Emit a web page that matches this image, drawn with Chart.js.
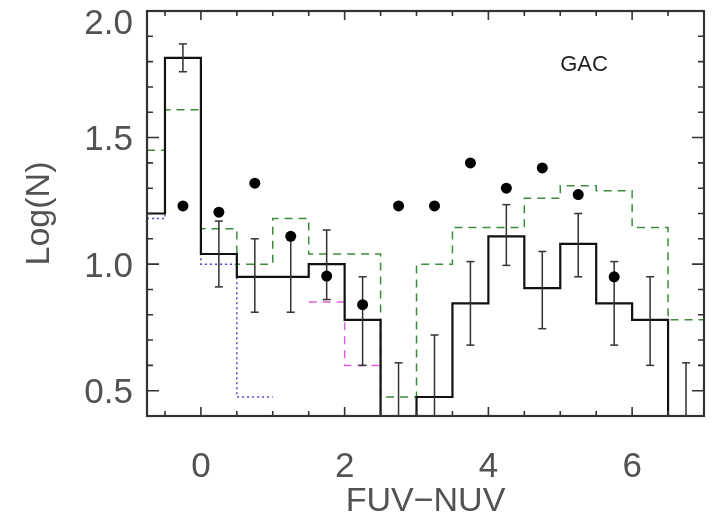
<!DOCTYPE html>
<html lang="en">
<head>
<meta charset="UTF-8">
<title>GAC FUV-NUV</title>
<script src="https://cdn.jsdelivr.net/npm/chart.js"></script>
<style>
  html, body { margin: 0; padding: 0; background: #fff; }
</style>
</head>
<body>
<canvas id="colourHist" width="726" height="516"></canvas>
<script>
// 0.5 mag bins in FUV-NUV, the first one is cut by the axis
const binEdges = [-0.75, -0.5, 0, 0.5, 1, 1.5, 2, 2.5, 3, 3.5, 4, 4.5, 5, 5.5, 6, 6.5, 7];
// log counts per bin
const gacCounts   = [1.20, 1.815, 1.04, 0.95, 0.95, 1.00, 0.78, 0.30, 0.475, 0.845, 1.11, 0.905, 1.08, 0.845, 0.78, 0.30];
const modelCounts = [1.45, 1.61, 1.14, 1.00, 1.18, 1.04, 1.04, 0.475, 1.00, 1.145, 1.145, 1.26, 1.31, 1.29, 1.145, 0.78];
const blueCounts  = [1.18, 1.815, 1.00, 0.475];          // bins from -0.75 to 1.0
const pinkCounts  = [0.85, 0.60];                        // bins from 1.5 to 2.5
const pinkStart = 5;                                     // index of first pink bin edge

// error bars at the centres of the full bins
const errCentres = [-0.25, 0.25, 0.75, 1.25, 1.75, 2.25, 2.75, 3.25, 3.75, 4.25, 4.75, 5.25, 5.75, 6.25, 6.75];
const errLow  = [1.76, 0.91, 0.81, 0.81, 0.86, 0.60, 0.10, 0.10, 0.68, 0.995, 0.745, 0.95, 0.68, 0.60, 0.10];
const errHigh = [1.87, 1.17, 1.10, 1.11, 1.135, 0.95, 0.61, 0.72, 1.01, 1.235, 1.05, 1.20, 1.01, 0.95, 0.61];

// comparison sample (filled circles)
const dotX = [-0.25, 0.25, 0.75, 1.25, 1.75, 2.25, 2.75, 3.25, 3.75, 4.25, 4.75, 5.25, 5.75];
const dotY = [1.23, 1.205, 1.32, 1.11, 0.953, 0.84, 1.23, 1.23, 1.40, 1.30, 1.38, 1.275, 0.95];

const xTickLabels = [0, 2, 4, 6];
const yTickLabels = [0.5, 1.0, 1.5, 2.0];
const panelName = 'GAC';

const FONT = '"Liberation Sans", Arial, Helvetica, sans-serif';
const TEXT = '#525252';

// turn bin values into the corner points of a step outline
function steps(values, firstEdge) {
  const pts = [];
  values.forEach((v, i) => {
    pts.push({ x: binEdges[firstEdge + i], y: v });
    pts.push({ x: binEdges[firstEdge + i + 1], y: v });
  });
  return pts;
}

// vertical segments separated by gaps, caps come from the point style
function errorSegments() {
  const pts = [];
  errCentres.forEach((c, i) => {
    pts.push({ x: c, y: errLow[i] }, { x: c, y: errHigh[i] }, { x: c, y: null });
  });
  return pts;
}

// IDL style frame: box with inward ticks on all sides, y labels, panel name
const frameTicks = {
  id: 'frameTicks',
  afterDraw(chart) {
    const { ctx, chartArea: a, scales: { x, y } } = chart;
    ctx.save();
    ctx.setLineDash([]);
    ctx.strokeStyle = '#333';
    ctx.lineWidth = 1.6;
    ctx.beginPath();
    // minor ticks every 0.5 in x, every 0.1 in y
    for (let i = Math.ceil(x.min * 2); i <= Math.floor(x.max * 2); i++) {
      const px = x.getPixelForValue(i / 2);
      if (px <= a.left + 1 || px >= a.right - 1) continue;
      const len = xTickLabels.includes(i / 2) ? 9 : 5;
      ctx.moveTo(px, a.bottom); ctx.lineTo(px, a.bottom - len);
      ctx.moveTo(px, a.top); ctx.lineTo(px, a.top + len);
    }
    for (let i = Math.ceil(y.min * 10 - 1e-6); i <= Math.floor(y.max * 10 + 1e-6); i++) {
      const py = y.getPixelForValue(i / 10);
      if (py <= a.top + 1 || py >= a.bottom - 1) continue;
      const len = i % 5 === 0 ? 12 : 6;
      ctx.moveTo(a.left, py); ctx.lineTo(a.left + len, py);
      ctx.moveTo(a.right, py); ctx.lineTo(a.right - len, py);
    }
    ctx.stroke();
    ctx.lineWidth = 2.2;
    ctx.strokeRect(a.left, a.top, a.right - a.left, a.bottom - a.top);

    ctx.fillStyle = TEXT;
    ctx.font = '35px ' + FONT;
    ctx.textAlign = 'right';
    ctx.textBaseline = 'middle';
    yTickLabels.forEach(v => {
      const py = Math.max(y.getPixelForValue(v), a.top + 10);
      ctx.fillText(v.toFixed(1), a.left - 14, py + 3);
    });

    ctx.fillStyle = '#222';
    ctx.font = '22px ' + FONT;
    ctx.textAlign = 'center';
    ctx.fillText(panelName, x.getPixelForValue(5.33), y.getPixelForValue(1.785));
    ctx.restore();
  }
};

new Chart(document.getElementById('colourHist'), {
  type: 'line',
  data: {
    datasets: [
      {
        label: 'comparison',
        data: dotX.map((v, i) => ({ x: v, y: dotY[i] })),
        showLine: false,
        pointRadius: 5.5,
        pointBackgroundColor: '#000',
        pointBorderWidth: 0,
        order: 0
      },
      {
        label: 'errors',
        data: errorSegments(),
        borderColor: '#333',
        borderWidth: 1.5,
        pointStyle: 'line',
        pointRadius: 4,
        pointBorderColor: '#333',
        pointBorderWidth: 1.5,
        spanGaps: false,
        order: 1
      },
      {
        label: 'GAC',
        data: steps(gacCounts, 0),
        borderColor: '#111',
        borderWidth: 2.2,
        pointRadius: 0,
        order: 2
      },
      {
        label: 'pink',
        data: steps(pinkCounts, pinkStart),
        borderColor: '#dd60dd',
        borderWidth: 1.5,
        borderDash: [8, 6],
        pointRadius: 0,
        order: 3
      },
      {
        label: 'blue',
        data: steps(blueCounts, 0),
        borderColor: '#4a4ad0',
        borderWidth: 1.5,
        borderDash: [2, 3],
        pointRadius: 0,
        order: 4
      },
      {
        label: 'model',
        data: steps(modelCounts, 0),
        borderColor: '#3c8c3c',
        borderWidth: 1.5,
        borderDash: [8, 6],
        pointRadius: 0,
        order: 5
      }
    ]
  },
  options: {
    responsive: false,
    animation: false,
    layout: { padding: { top: 11, right: 6, left: 0, bottom: 0 } },
    plugins: { legend: { display: false }, tooltip: { enabled: false } },
    elements: { line: { tension: 0, fill: false } },
    scales: {
      x: {
        type: 'linear',
        min: -0.75,
        max: 7,
        grid: { display: false },
        border: { display: false },
        ticks: {
          stepSize: 0.5,
          autoSkip: false,
          maxRotation: 0,
          padding: 22,
          color: TEXT,
          font: { family: FONT, size: 35 },
          callback: v => (xTickLabels.includes(v) ? String(v) : '')
        },
        title: {
          display: true,
          text: 'FUV\u2212NUV',
          color: TEXT,
          font: { family: FONT, size: 34 },
          padding: { top: 0, bottom: -6 }
        },
        afterFit: s => { s.height = 100; }
      },
      y: {
        type: 'linear',
        min: 0.4,
        max: 2.0,
        grid: { display: false },
        border: { display: false },
        ticks: { stepSize: 0.1, display: false },
        title: {
          display: true,
          text: 'Log(N)',
          color: TEXT,
          font: { family: FONT, size: 34 },
          padding: { top: 19, bottom: 0 }
        },
        afterFit: s => { s.width = 147; }
      }
    }
  },
  plugins: [frameTicks]
});
</script>
</body>
</html>
